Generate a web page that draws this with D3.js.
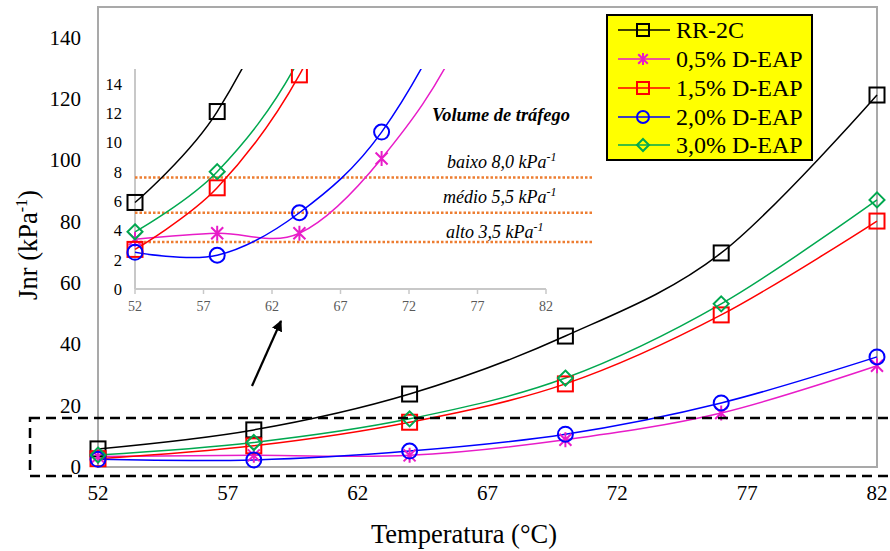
<!DOCTYPE html>
<html>
<head>
<meta charset="utf-8">
<script src="https://cdn.jsdelivr.net/npm/d3@7"></script>
<style>
  body { margin:0; background:#fff; }
</style>
</head>
<body>
<svg id="graph" width="890" height="551" font-family="Liberation Serif, Times New Roman, Tinos, DejaVu Serif, serif"></svg>
<script>
// data
var temps = [52, 58, 64, 70, 76, 82];
var seriesNames = ["RR-2C", "0,5% D-EAP", "1,5% D-EAP", "2,0% D-EAP", "3,0% D-EAP"];
var rr2c = [5.9, 12.1, 23.8, 42.7, 69.8, 121.3];
var deap05 = [3.4, 3.8, 3.8, 8.9, 17.6, 33.0];
var deap15 = [2.7, 6.9, 14.6, 27.1, 49.6, 80.2];
var deap20 = [2.5, 2.3, 5.2, 10.7, 20.9, 35.9];
var deap30 = [3.9, 8.0, 15.7, 29.0, 53.2, 87.1];
var xTicks = [52, 57, 62, 67, 72, 77, 82];
var yTicks = [0, 20, 40, 60, 80, 100, 120, 140];
var insetYTicks = [0, 2, 4, 6, 8, 10, 12, 14];
var limits = [7.6, 5.2, 3.2];  // dotted lines as drawn
var limitLabels = ["baixo 8,0 kPa", "médio 5,5 kPa", "alto 3,5 kPa"];

var styles = [
  {color:"#000000", marker:"square"},
  {color:"#e81cc8", marker:"star"},
  {color:"#ff0000", marker:"square"},
  {color:"#0000ff", marker:"circle"},
  {color:"#00a84f", marker:"diamond"}
];
var series = [rr2c, deap05, deap15, deap20, deap30];

svg = d3.select("#graph");

// main scales
x = d3.scaleLinear().domain([52, 82]).range([98, 877]);
y = d3.scaleLinear().domain([0, 150]).range([467, 7]);

// inset scales
xi = d3.scaleLinear().domain([52, 82]).range([135, 546]);
yi = d3.scaleLinear().domain([0, 15]).range([289, 69]);

function marker(g, type, color, s) {
  if (type == "square") {
    g.append("rect").attr("x", -s).attr("y", -s).attr("width", 2*s).attr("height", 2*s)
      .attr("fill", "none").attr("stroke", color).attr("stroke-width", 2);
  } else if (type == "circle") {
    g.append("circle").attr("r", s).attr("fill", "none").attr("stroke", color).attr("stroke-width", 2);
  } else if (type == "diamond") {
    g.append("path").attr("d", "M0," + (-s) + "L" + s + ",0L0," + s + "L" + (-s) + ",0Z")
      .attr("fill", "none").attr("stroke", color).attr("stroke-width", 2);
  } else {
    var d = s * 0.8;
    g.append("path").attr("d", "M0," + (-s) + "V" + s + "M" + (-d) + "," + (-d) + "L" + d + "," + d + "M" + d + "," + (-d) + "L" + (-d) + "," + d)
      .attr("fill", "none").attr("stroke", color).attr("stroke-width", 2);
  }
}

// plot area frame
svg.append("rect").attr("x", x(52)).attr("y", y(150))
  .attr("width", x(82) - x(52)).attr("height", y(0) - y(150))
  .attr("fill", "none").attr("stroke", "#a9a9a9").attr("stroke-width", 2);

// main y labels
svg.append("g").selectAll("text").data(yTicks).enter().append("text")
  .attr("x", 81).attr("y", (d) => y(d) + 7)
  .attr("text-anchor", "end").attr("font-size", 21).text((d) => d);

// main x labels
svg.append("g").selectAll("text").data(xTicks).enter().append("text")
  .attr("x", (d) => x(d)).attr("y", 500)
  .attr("text-anchor", "middle").attr("font-size", 21).text((d) => d);

// axis titles
yt = svg.append("text").attr("transform", "translate(37,245) rotate(-90)")
  .attr("text-anchor", "middle").attr("font-size", 26.5);
yt.append("tspan").text("Jnr (kPa");
yt.append("tspan").attr("font-size", 16).attr("dy", -10).text("-1");
yt.append("tspan").attr("dy", 10).text(")");

svg.append("text").attr("x", 464).attr("y", 543).attr("text-anchor", "middle")
  .attr("font-size", 26.5).text("Temperatura (°C)");

var line = function(xs, ys) {
  return d3.line().x((d, i) => xs(temps[i])).y((d) => ys(d)).curve(d3.curveCardinal.tension(0));
};

// main curves
series.forEach(function(s, k) {
  svg.append("path").datum(s).attr("d", line(x, y))
    .attr("fill", "none").attr("stroke", styles[k].color).attr("stroke-width", 1.5);
});
series.forEach(function(s, k) {
  s.forEach(function(v, i) {
    g = svg.append("g").attr("transform", "translate(" + x(temps[i]) + "," + y(v) + ")");
    marker(g, styles[k].marker, styles[k].color, 7.5);
  });
});

// dashed zoom box
svg.append("rect").attr("x", 30).attr("y", 418).attr("width", 880).attr("height", 58)
  .attr("fill", "none").attr("stroke", "#000").attr("stroke-width", 2.5)
  .attr("stroke-dasharray", "10,6");

// arrow
svg.append("defs").append("marker").attr("id", "arrow")
  .attr("viewBox", "0 0 10 10").attr("refX", 9).attr("refY", 5)
  .attr("markerWidth", 5).attr("markerHeight", 5).attr("orient", "auto")
  .append("path").attr("d", "M0,0L10,5L0,10Z").attr("fill", "#000");
svg.append("line").attr("x1", 252).attr("y1", 386).attr("x2", 281).attr("y2", 321)
  .attr("stroke", "#000").attr("stroke-width", 2.2).attr("marker-end", "url(#arrow)");

// ---- inset ----
inset = svg.append("g");
inset.append("defs").append("clipPath").attr("id", "clipi")
  .append("rect").attr("x", xi(52) - 10).attr("y", yi(15))
  .attr("width", xi(82) - xi(52) + 20).attr("height", yi(0) - yi(15) + 10);

inset.append("line").attr("x1", xi(52)).attr("x2", xi(52)).attr("y1", yi(15)).attr("y2", yi(0))
  .attr("stroke", "#c8c8c8").attr("stroke-width", 2);
inset.append("line").attr("x1", xi(52)).attr("x2", xi(82)).attr("y1", yi(0)).attr("y2", yi(0))
  .attr("stroke", "#c8c8c8").attr("stroke-width", 2);
inset.append("g").selectAll("line").data(xTicks).enter().append("line")
  .attr("x1", (d) => xi(d)).attr("x2", (d) => xi(d)).attr("y1", yi(0)).attr("y2", yi(0) + 5)
  .attr("stroke", "#c8c8c8").attr("stroke-width", 1.5);
inset.append("g").selectAll("text").data(xTicks).enter().append("text")
  .attr("x", (d) => xi(d)).attr("y", 311).attr("text-anchor", "middle")
  .attr("font-size", 14).attr("fill", "#595959").text((d) => d);
inset.append("g").selectAll("text").data(insetYTicks).enter().append("text")
  .attr("x", 122).attr("y", (d) => yi(d) + 6).attr("text-anchor", "end")
  .attr("font-size", 16.5).text((d) => d);

// limit lines
inset.append("g").selectAll("line").data(limits).enter().append("line")
  .attr("x1", xi(52)).attr("x2", 592).attr("y1", (d) => yi(d)).attr("y2", (d) => yi(d))
  .attr("stroke", "#ed7d31").attr("stroke-width", 2.5).attr("stroke-dasharray", "2.5,2");

inset.append("text").attr("x", 432).attr("y", 121).attr("font-size", 18.4)
  .attr("font-weight", "bold").attr("font-style", "italic").text("Volume de tráfego");
var labY = [168, 203, 238];
var labX = [447, 443, 446];
limitLabels.forEach(function(l, i) {
  t = inset.append("text").attr("x", labX[i]).attr("y", labY[i])
    .attr("font-size", 18).attr("font-style", "italic");
  t.append("tspan").text(l);
  t.append("tspan").attr("font-size", 12).attr("dy", -7).text("-1");
});

ic = inset.append("g").attr("clip-path", "url(#clipi)");
series.forEach(function(s, k) {
  ic.append("path").datum(s).attr("d", line(xi, yi))
    .attr("fill", "none").attr("stroke", styles[k].color).attr("stroke-width", 1.5);
});
series.forEach(function(s, k) {
  s.forEach(function(v, i) {
    if (v > 15) return;
    g = ic.append("g").attr("transform", "translate(" + xi(temps[i]) + "," + yi(v) + ")");
    marker(g, styles[k].marker, styles[k].color, 7.5);
  });
});

// legend
leg = svg.append("g");
leg.append("rect").attr("x", 607).attr("y", 15).attr("width", 205).attr("height", 145)
  .attr("fill", "#ffff00").attr("stroke", "#000").attr("stroke-width", 2);
var legY = [30, 59, 88, 117, 145];
seriesNames.forEach(function(n, k) {
  g = leg.append("g").attr("transform", "translate(0," + legY[k] + ")");
  g.append("line").attr("x1", 618).attr("x2", 670).attr("stroke", styles[k].color).attr("stroke-width", 1.5);
  mg = g.append("g").attr("transform", "translate(643,0)");
  marker(mg, styles[k].marker, styles[k].color, 6);
  g.append("text").attr("x", 676).attr("y", 8).attr("font-size", 24).text(n);
});
</script>
</body>
</html>
